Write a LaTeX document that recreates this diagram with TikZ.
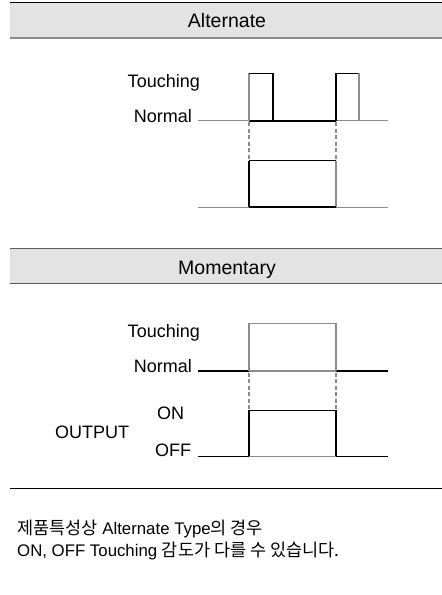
\documentclass[tikz,border=0pt]{standalone}
\usepackage{fontspec}
\setmainfont{Liberation Sans}
\newfontfamily\krfont{Noto Sans CJK KR}
\newcommand{\kr}[1]{{\krfont\fontsize{17.5}{20}\selectfont #1}}
\definecolor{hdrfill}{HTML}{E3E3E3}
\definecolor{lgray}{HTML}{8C8C8C}
\definecolor{hdrline}{HTML}{5A5A5A}
\begin{document}
\begin{tikzpicture}[x=1pt,y=-1pt,
  thinline/.style={draw=lgray,line width=1.1pt},
  blackline/.style={draw=black,line width=1.1pt},
  boldline/.style={draw=black,line width=1.7pt},
  dashline/.style={draw=lgray,line width=1.1pt,dash pattern=on 4pt off 2.5pt},
  lbl/.style={inner sep=0pt,font=\fontsize{18}{20}\selectfont},
  hdr/.style={inner sep=0pt,font=\fontsize{19.5}{22}\selectfont},
  note/.style={inner sep=0pt,anchor=base west,font=\fontsize{16.8}{19}\selectfont}]
\useasboundingbox (0,0) rectangle (442,595);
% ---------- Alternate header
\fill[hdrfill] (10,2.5) rectangle (442,38);
\draw[black,line width=1.6pt] (10,2.5) -- (442,2.5);
\draw[lgray,line width=1.2pt] (10,38) -- (442,38);
\node[hdr] (althdr) at (227,21) {Alternate};
% labels
\node[lbl,anchor=base east] (at) at (200,87) {Touching};
\node[lbl,anchor=base east] (an) at (192,122) {Normal};
% touching waveform
\draw[thinline] (198,120.7) -- (249,120.7);
\draw[boldline] (249,120.7) -- (336,120.7);
\draw[thinline] (336,120.7) -- (388,120.7);
\draw[thinline] (249,120.7) -- (249,73.3);
\draw[blackline] (249,73.3) -- (273,73.3) -- (273,120.7);
\draw[boldline] (336,120.7) -- (336,73.3);
\draw[blackline] (336,73.3) -- (359,73.3);
\draw[thinline] (359,73.3) -- (359,120.7);
% dashes
\draw[dashline] (249,122) -- (249,160.7);
\draw[dashline] (336,122) -- (336,160.7);
% output waveform
\draw[thinline] (198,207.3) -- (249,207.3);
\draw[boldline] (249,207.3) -- (249,160.7);
\draw[blackline] (249,160.7) -- (336,160.7);
\draw[thinline] (336,160.7) -- (336,207.3);
\draw[boldline] (249,207.3) -- (336,207.3);
\draw[thinline] (336,207.3) -- (388,207.3);
% ---------- Momentary header
\fill[hdrfill] (10,248.5) rectangle (442,283.5);
\draw[hdrline,line width=1.3pt] (10,248.5) -- (442,248.5);
\draw[hdrline,line width=1.3pt] (10,283.5) -- (442,283.5);
\node[hdr] (momhdr) at (227,270) {Momentary};
% labels
\node[lbl,anchor=base east] (mt) at (200,337.3) {Touching};
\node[lbl,anchor=base east] (mn) at (192,372.7) {Normal};
\node[lbl,anchor=base west] (mon) at (157,419.3) {ON};
\node[lbl,anchor=base west] (moff) at (155,456.7) {OFF};
\node[lbl,anchor=base west] (mout) at (55,438.3) {OUTPUT};
% touching waveform
\draw[blackline] (198,371) -- (249,371);
\draw[thinline] (249,371) -- (336,371);
\draw[blackline] (336,371) -- (388,371);
\draw[thinline] (249,371) -- (249,323.3) -- (336,323.3) -- (336,371);
% dashes
\draw[dashline] (249,372.5) -- (249,410.3);
\draw[dashline] (336,372.5) -- (336,410.3);
% output waveform
\draw[blackline] (198,456.7) -- (249,456.7);
\draw[boldline] (249,456.7) -- (249,410.3);
\draw[blackline] (249,410.3) -- (336,410.3);
\draw[boldline] (336,410.3) -- (336,456.7);
\draw[thinline] (249,456.7) -- (336,456.7);
\draw[blackline] (336,456.7) -- (388,456.7);
% ---------- separator and notes
\draw[black,line width=1.2pt] (10,488.5) -- (442,488.5);
\node[note] (n1) at (17,534) {\kr{제품특성상} Alternate Type\kr{의 경우}};
\node[note] (n2) at (17,556) {ON, OFF Touching \kr{감도가 다를 수 있습니다.}};
\end{tikzpicture}
\end{document}
